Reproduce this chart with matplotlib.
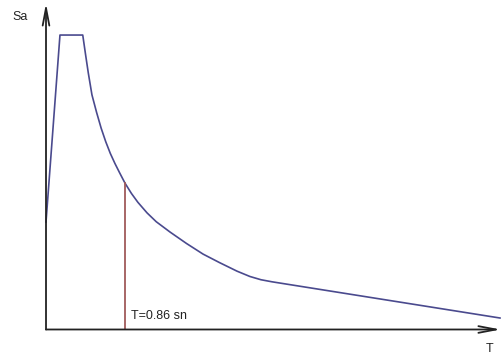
import matplotlib
matplotlib.use("Agg")
import matplotlib.pyplot as plt

# spectrum (T in s, Sa normalised to plateau)
period = [0.0, 0.152, 0.40, 0.43, 0.46, 0.50, 0.55, 0.60, 0.65, 0.70, 0.75,
          0.80, 0.86, 0.93, 1.00, 1.10, 1.20, 1.35, 1.53, 1.71, 1.89, 2.08,
          2.22, 2.34, 2.46, 4.942]
sa = [0.365, 1.000, 1.000, 0.935, 0.872, 0.797, 0.738, 0.684, 0.638, 0.598, 0.564,
      0.533, 0.497, 0.462, 0.432, 0.396, 0.366, 0.331, 0.292, 0.256, 0.227, 0.198,
      0.180, 0.169, 0.162, 0.039]
t_mark = 0.86
sa_mark = 0.497
mark_label = "T=0.86 sn"

plt.rcParams['font.family'] = ['Liberation Sans', 'DejaVu Sans']

fig = plt.figure(figsize=(5.01, 3.61), dpi=100)
ax = fig.add_axes([0, 0, 1, 1])
ax.set_xlim(-0.5008, 4.953)
ax.set_ylim(-0.107, 1.119)
ax.axis('off')

# axes with open arrow heads
arrow = dict(arrowstyle='->, head_length=0.42, head_width=0.08', mutation_scale=30,
             color='#222222', lw=1.3, shrinkA=0, shrinkB=0)
ax.annotate('', xy=(0, 1.108), xytext=(0, 0), arrowprops=arrow)
ax.annotate('', xy=(4.95, 0), xytext=(0, 0), arrowprops=arrow)

ax.plot(period, sa, color='#4a4a8e', lw=1.2, solid_joinstyle='round')
ax.plot([t_mark, t_mark], [0, sa_mark], color='#a05a5a', lw=1.3)

ax.text(t_mark + 0.07, 0.045, mark_label, fontsize=9, color='#222222', va='center')
fig.text(20 / 501, 1 - 17 / 361, 'Sa', fontsize=9, color='#222222', ha='center', va='center')
fig.text(490 / 501, 1 - 349 / 361, 'T', fontsize=9, color='#222222', ha='center', va='center')

fig.savefig('out.png', dpi=100)
